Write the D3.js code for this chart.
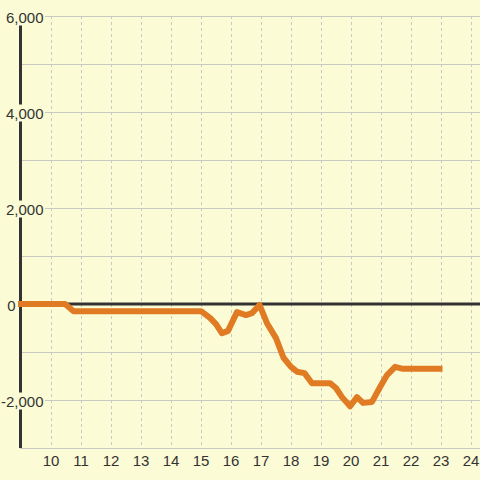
<!DOCTYPE html>
<html>
<head>
<meta charset="utf-8">
<script src="https://cdn.jsdelivr.net/npm/d3@7"></script>
<style>
  body { margin: 0; background: #fbfbd5; }
  svg { display: block; }
  svg text { font-family: "Liberation Sans", Arial, sans-serif; font-size: 15px; fill: #333; }
</style>
</head>
<body>
<div id="chart"></div>
<script>
// hours along the day
var hours = [8.9, 10.47, 10.75, 15.0, 15.3, 15.5, 15.7, 15.9, 16.2, 16.5, 16.7, 16.95,
    17.2, 17.5, 17.75, 18.0, 18.2, 18.45, 18.7, 18.97, 19.3, 19.5, 19.7, 19.97,
    20.2, 20.4, 20.7, 20.97, 21.2, 21.47, 21.73, 23.05];
// running value
var values = [0, 0, -150, -150, -290, -420, -610, -560, -170, -230, -190, -20,
    -400, -710, -1120, -1310, -1410, -1440, -1650, -1650, -1650, -1750, -1940, -2130,
    -1940, -2060, -2040, -1730, -1480, -1310, -1350, -1350];
var xTicks = [10, 11, 12, 13, 14, 15, 16, 17, 18, 19, 20, 21, 22, 23, 24];
var yTicks = [-3000, -2000, -1000, 0, 1000, 2000, 3000, 4000, 5000, 6000];
var yLabels = [-2000, 0, 2000, 4000, 6000];

var width = 480, height = 480;
var bg = "#fbfbd5";

var svg = d3.select("#chart")
    .append("svg")
    .attr("width", width)
    .attr("height", height);

svg.append("rect")
    .attr("width", width)
    .attr("height", height)
    .attr("fill", bg);

var xScale = d3.scaleLinear()
    .domain([9, 24])
    .range([21, 471]);
var yScale = d3.scaleLinear()
    .domain([-3000, 6000])
    .range([448, 16]);

// horizontal grid
svg.append("g")
    .selectAll("line")
    .data(yTicks)
    .enter()
    .append("line")
    .attr("x1", 20)
    .attr("x2", width)
    .attr("y1", function(d) { return yScale(d) + 0.5; })
    .attr("y2", function(d) { return yScale(d) + 0.5; })
    .attr("stroke", "#c9c9c4")
    .attr("stroke-width", 1);

// vertical dashed grid
svg.append("g")
    .selectAll("line")
    .data(xTicks)
    .enter()
    .append("line")
    .attr("x1", function(d) { return xScale(d) + 0.5; })
    .attr("x2", function(d) { return xScale(d) + 0.5; })
    .attr("y1", yScale(6000))
    .attr("y2", yScale(-3000))
    .attr("stroke", "#c9c9c4")
    .attr("stroke-dasharray", "3,3")
    .attr("stroke-width", 1);

// zero line
svg.append("line")
    .attr("x1", 20)
    .attr("x2", width)
    .attr("y1", yScale(0))
    .attr("y2", yScale(0))
    .attr("stroke", "#333")
    .attr("stroke-width", 3);

// y axis line
svg.append("line")
    .attr("x1", 20.5)
    .attr("x2", 20.5)
    .attr("y1", yScale(6000))
    .attr("y2", yScale(-3000))
    .attr("stroke", "#333")
    .attr("stroke-width", 3);

// y labels with a background box
var yLab = svg.append("g")
    .selectAll("g")
    .data(yLabels)
    .enter()
    .append("g")
    .attr("transform", function(d) {
        var x = d === 0 ? 15.5 : 43.5;
        return "translate(" + x + "," + (yScale(d) + 6.5) + ")";
    });

yLab.append("text")
    .attr("text-anchor", "end")
    .text(function(d) { return d3.format(",")(d).replace("−", "-"); })
    .each(function(d) {
        if (d === 0) return;
        var b = this.getBBox();
        d3.select(this.parentNode).insert("rect", "text")
            .attr("x", b.x - 1)
            .attr("y", b.y)
            .attr("width", b.width + 2.5)
            .attr("height", b.height)
            .attr("fill", bg);
    });

// the series
var line = d3.line()
    .x(function(d, i) { return xScale(hours[i]); })
    .y(function(d) { return yScale(d); });

svg.append("path")
    .datum(values)
    .attr("d", line)
    .attr("fill", "none")
    .attr("stroke", "#e07b24")
    .attr("stroke-width", 6)
    .attr("stroke-linejoin", "round");

// x labels
svg.append("g")
    .selectAll("text")
    .data(xTicks)
    .enter()
    .append("text")
    .attr("x", function(d) { return xScale(d); })
    .attr("y", 466)
    .attr("text-anchor", "middle")
    .text(function(d) { return d; });
</script>
</body>
</html>
